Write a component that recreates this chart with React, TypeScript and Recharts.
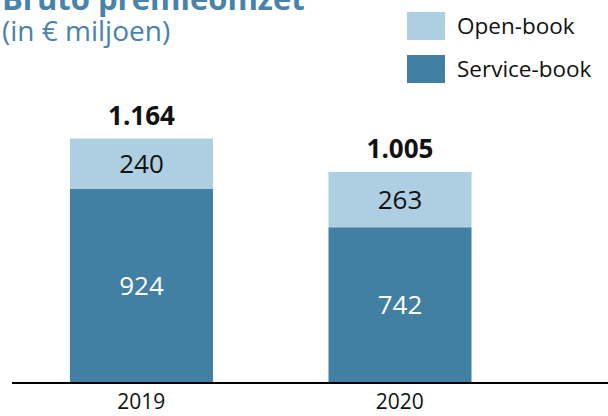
import React from "react"
import { BarChart, Bar, XAxis, YAxis, LabelList } from "recharts"

const years = ["2019", "2020"]
const serviceBook = [924, 742]
const openBook = [240, 263]

const DARK = "#417fa3"
const LIGHT = "#aecee1"
const TITLE = "#4783ab"
const FONT = "'Open Sans', 'Noto Sans', sans-serif"

const data = years.map((year, i) => ({
  year,
  service: serviceBook[i],
  open: openBook[i],
  total: serviceBook[i] + openBook[i],
}))

const legendItems = [
  { name: "Open-book", color: LIGHT },
  { name: "Service-book", color: DARK },
]

// Dutch thousands separator
const fmt = (v: number) => v.toLocaleString("nl-NL")

const renderTotal = (props: any) => {
  const { x, y, width, index } = props
  return (
    <text
      x={x + width / 2}
      y={y - 14}
      textAnchor="middle"
      fontFamily={FONT}
      fontWeight={700}
      fontSize={26}
      fill="#111"
    >
      {fmt(data[index].total)}
    </text>
  )
}

export default function App() {
  return (
    <div style={{ position: "absolute", left: 0, top: 0, width: 608, height: 416, background: "#fff", overflow: "hidden" }}>
      <div style={{ position: "absolute", left: 2, top: -17, fontFamily: FONT, color: TITLE, lineHeight: 1, fontSize: 31, fontWeight: 700, whiteSpace: "nowrap" }}>
        Bruto premieomzet
      </div>
      <div style={{ position: "absolute", left: 2, top: 16, fontFamily: FONT, color: TITLE, lineHeight: 1, fontSize: 28, whiteSpace: "nowrap" }}>
        (in € miljoen)
      </div>
      <div style={{ position: "absolute", left: 407, top: 4, fontFamily: FONT }}>
        {legendItems.map((item) => (
          <div key={item.name} style={{ display: "flex", alignItems: "center", height: 43 }}>
            <div style={{ width: 38, height: 28, background: item.color, marginRight: 12 }} />
            <span style={{ fontSize: 22.5, color: "#111" }}>{item.name}</span>
          </div>
        ))}
      </div>
      <BarChart width={608} height={416} data={data} margin={{ top: 89, right: 0, left: 12, bottom: 3 }}>
        <XAxis
          dataKey="year"
          height={30}
          padding={{ left: 0, right: 79 }}
          tickLine={false}
          axisLine={{ stroke: "#000", strokeWidth: 2 }}
          tick={{ fill: "#111", fontSize: 21, fontFamily: FONT }}
          tickMargin={5}
        />
        <YAxis hide domain={[0, 1400]} />
        <Bar dataKey="service" name="Service-book" stackId="a" fill={DARK} barSize={143} isAnimationActive={false}>
          <LabelList dataKey="service" position="center" fill="#fff" fontSize={26} fontFamily={FONT} />
        </Bar>
        <Bar dataKey="open" name="Open-book" stackId="a" fill={LIGHT} barSize={143} isAnimationActive={false}>
          <LabelList dataKey="open" position="center" fill="#111" fontSize={26} fontFamily={FONT} />
          <LabelList dataKey="total" content={renderTotal} />
        </Bar>
      </BarChart>
    </div>
  )
}
